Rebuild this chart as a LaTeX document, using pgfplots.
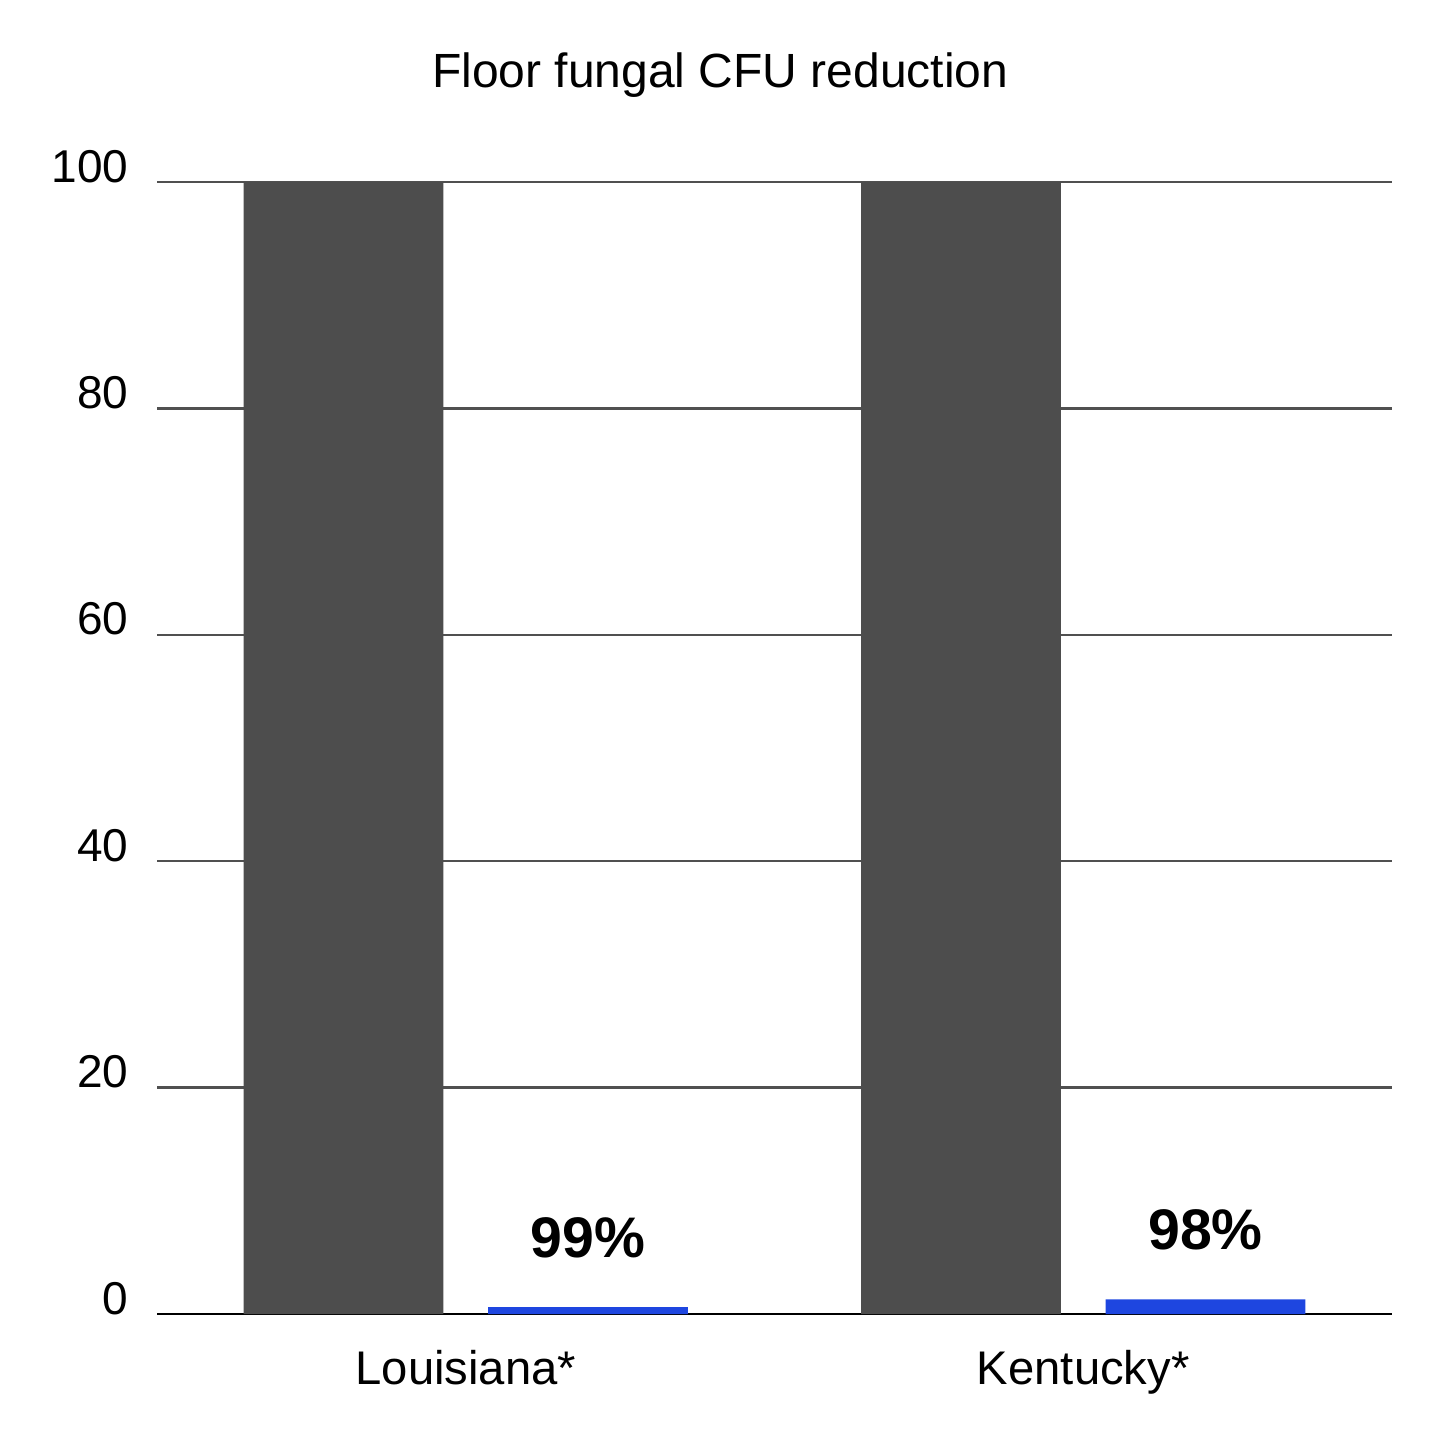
\documentclass[border=0pt]{standalone}
\usepackage{pgfplots}
\pgfplotsset{compat=1.18}
\usepackage{fontspec}
\setmainfont{Liberation Sans}
\definecolor{darkbar}{HTML}{4D4D4D}
\definecolor{bluebar}{HTML}{1E46E0}
\definecolor{gridc}{HTML}{505050}
\begin{document}
\begin{tikzpicture}
\useasboundingbox (0,0) rectangle (360pt,360pt);
\begin{axis}[
  at={(39.25pt,31.5pt)}, anchor=south west,
  scale only axis, width=308.75pt, height=283pt,
  xmin=-0.5, xmax=1.5, ymin=0, ymax=100,
  axis line style={draw=none},
  major tick length=0pt,
  ytick={20,40,60,80,100},
  extra y ticks={0},
  ymajorgrids,
  major grid style={gridc, line width=0.6pt},
  extra y tick style={major grid style={black, line width=0.6pt}},
  /pgf/number format/assume math mode=true,
  yticklabel style={anchor=base east, inner sep=0pt, xshift=-7pt, font=\fontsize{11.5}{13}\selectfont},
  xtick={0,1}, xticklabels={Louisiana*, Kentucky*},
  xticklabel style={anchor=base, inner sep=0pt, yshift=-17.5pt, font=\fontsize{11.8}{13}\selectfont},
  title={Floor fungal CFU reduction},
  title style={at={(0.456,1)}, anchor=base, inner sep=0pt, yshift=17.75pt, font=\fontsize{12}{14}\selectfont},
  ybar, bar width=0.3236, bar shift=0pt,
  clip=false,
]
\addplot[fill=darkbar, draw=none] coordinates {(-0.198,100) (0.802,100)};
\addplot[fill=bluebar, draw=none,
  nodes near coords, point meta=explicit symbolic,
  every node near coord/.style={anchor=base, inner sep=0pt, yshift=12.5pt, font=\bfseries\fontsize{14.3}{16}\selectfont, text=black}]
  coordinates {(0.198,0.6) [99\%] (1.198,1.3) [98\%]};
\end{axis}
\end{tikzpicture}
\end{document}
